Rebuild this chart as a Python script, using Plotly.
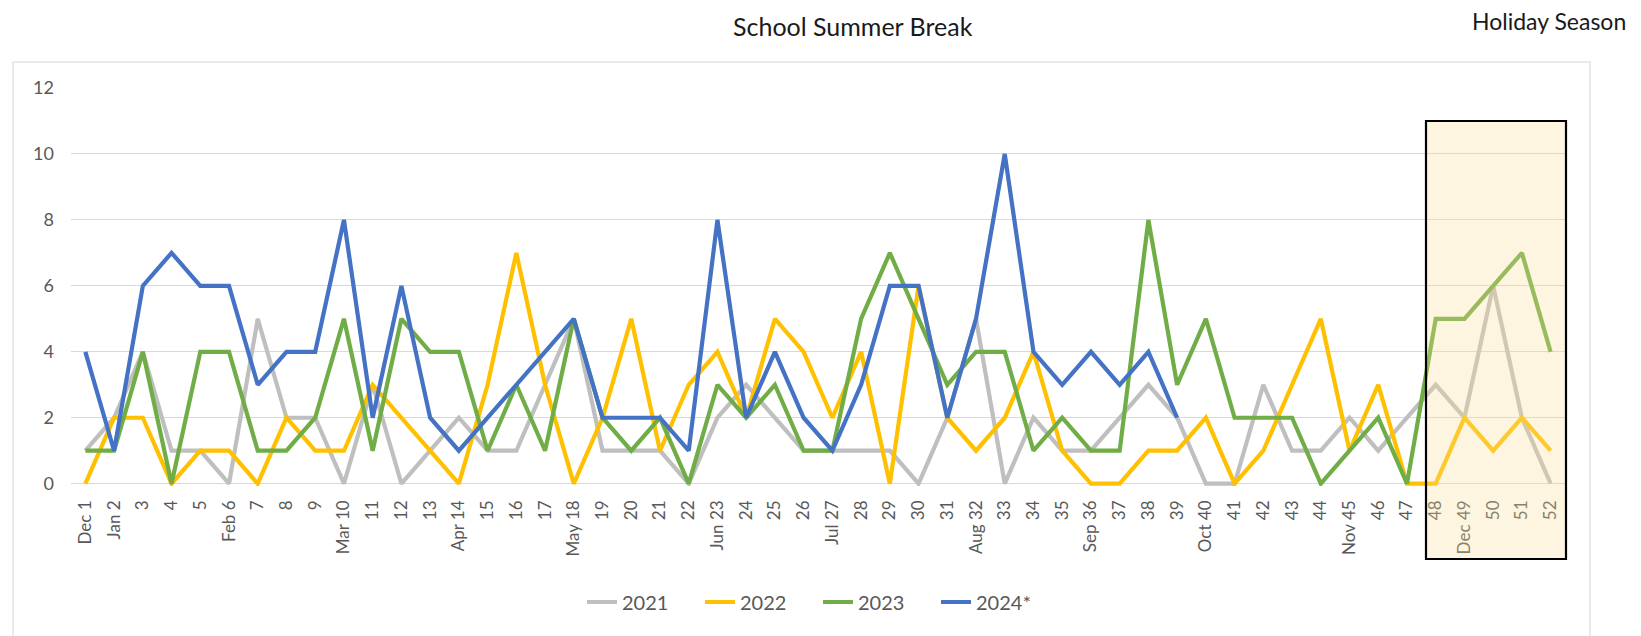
import plotly.graph_objects as go

weeks = ["Dec 1", "Jan 2", "3", "4", "5", "Feb 6", "7", "8", "9", "Mar 10", "11", "12", "13",
         "Apr 14", "15", "16", "17", "May 18", "19", "20", "21", "22", "Jun 23", "24", "25", "26",
         "Jul 27", "28", "29", "30", "31", "Aug 32", "33", "34", "35", "Sep 36", "37", "38", "39",
         "Oct 40", "41", "42", "43", "44", "Nov 45", "46", "47", "48", "Dec 49", "50", "51", "52"]

y2021 = [1, 2, 4, 1, 1, 0, 5, 2, 2, 0, 3, 0, 1, 2, 1, 1, 3, 5, 1, 1, 1, 0, 2, 3, 2, 1,
         1, 1, 1, 0, 2, 5, 0, 2, 1, 1, 2, 3, 2, 0, 0, 3, 1, 1, 2, 1, 2, 3, 2, 6, 2, 0]
y2022 = [0, 2, 2, 0, 1, 1, 0, 2, 1, 1, 3, 2, 1, 0, 3, 7, 3, 0, 2, 5, 1, 3, 4, 2, 5, 4,
         2, 4, 0, 6, 2, 1, 2, 4, 1, 0, 0, 1, 1, 2, 0, 1, 3, 5, 1, 3, 0, 0, 2, 1, 2, 1]
y2023 = [1, 1, 4, 0, 4, 4, 1, 1, 2, 5, 1, 5, 4, 4, 1, 3, 1, 5, 2, 1, 2, 0, 3, 2, 3, 1,
         1, 5, 7, 5, 3, 4, 4, 1, 2, 1, 1, 8, 3, 5, 2, 2, 2, 0, 1, 2, 0, 5, 5, 6, 7, 4]
y2024 = [4, 1, 6, 7, 6, 6, 3, 4, 4, 8, 2, 6, 2, 1, 2, 3, 4, 5, 2, 2, 2, 1, 8, 2, 4, 2,
         1, 3, 6, 6, 2, 5, 10, 4, 3, 4, 3, 4, 2]

series = [("2021", y2021, "#BFBFBF"), ("2022", y2022, "#FFC000"),
          ("2023", y2023, "#70AD47"), ("2024*", y2024, "#4472C4")]

FONT = "Lato"
TXT = "#595959"

fig = go.Figure()
for name, vals, col in series:
    fig.add_trace(go.Scatter(x=weeks[:len(vals)], y=vals, mode="lines", name=name,
                             line=dict(color=col, width=4.2)))

# page body has an 8px margin; work in window pixel coordinates and shift
OFF = 8
W, H = 1641 - OFF, 636 - OFF
PL, PR, PT, PB = 71, 1565, 88, 486   # plot area in window pixels
L, T = PL - OFF, PT - OFF
R, B = W - (PR - OFF), H - (PB - OFF)
pw, ph = PR - PL, PB - PT

def px(xp):
    return (xp - PL) / pw

def py(yp):
    return (PB - yp) / ph

shapes = [
    # outer chart border
    dict(type="rect", xref="paper", yref="paper", x0=px(13), x1=px(1590), y0=py(700), y1=py(62),
         line=dict(color="#E3E3E3", width=1.5), fillcolor="rgba(0,0,0,0)", layer="below"),
    # holiday highlight
    dict(type="rect", xref="paper", yref="paper", x0=px(1426), x1=px(1566), y0=py(559), y1=py(121),
         line=dict(color="#000000", width=2.2), fillcolor="rgba(250,222,150,0.3)", layer="above"),
]

fig.update_layout(
    width=W, height=H,
    margin=dict(l=L, r=R, t=T, b=B, autoexpand=False),
    paper_bgcolor="white", plot_bgcolor="white",
    font=dict(family=FONT, color=TXT, size=17),
    showlegend=True,
    legend=dict(orientation="h", x=0.5, xanchor="center", y=py(602), yanchor="middle",
                font=dict(size=20, color=TXT), entrywidth=73, entrywidthmode="pixels",
                tracegroupgap=0),
    shapes=shapes,
    annotations=[
        dict(text="School Summer Break", xref="paper", yref="paper", x=px(853), y=py(26),
             xanchor="center", yanchor="middle", showarrow=False,
             font=dict(family=FONT, size=25, color="#1a1a1a")),
        dict(text="Holiday Season", xref="paper", yref="paper", x=px(1549), y=py(21),
             xanchor="center", yanchor="middle", showarrow=False, borderpad=0,
             font=dict(family=FONT, size=23, color="#1a1a1a")),
    ],
)
fig.update_xaxes(type="category", range=[-0.5, len(weeks) - 0.5], tickangle=-90,
                 showgrid=False, showline=False, zeroline=False, ticks="",
                 tickfont=dict(family=FONT, size=17, color=TXT), ticklabelstandoff=10)
fig.update_yaxes(range=[-0.07, 12], tickvals=[0, 2, 4, 6, 8, 10, 12], showgrid=True,
                 gridcolor="#D9D9D9", gridwidth=1, zeroline=False, showline=False, ticks="",
                 tickfont=dict(family=FONT, size=18, color=TXT), ticklabelstandoff=16)

fig.write_html("out.html")
